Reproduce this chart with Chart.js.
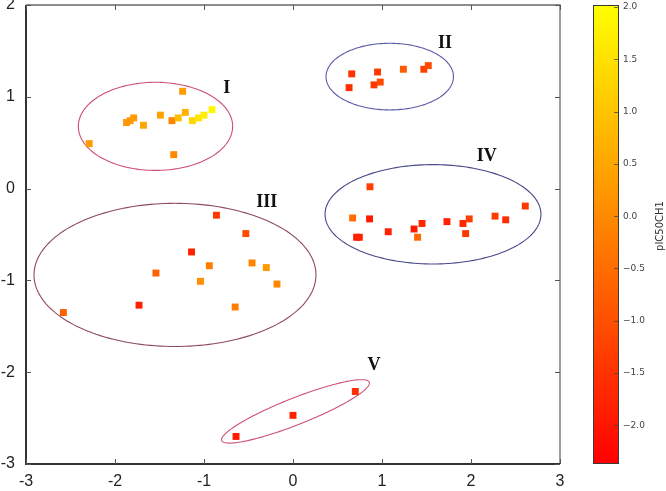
<!DOCTYPE html>
<html><head><meta charset="utf-8">
<script src="https://cdn.jsdelivr.net/npm/chart.js@4"></script>
<style>html,body{margin:0;padding:0;background:#fff}#wrap{width:666px;height:491px}</style>
</head><body><div id="wrap"><canvas id="c" width="666" height="491"></canvas></div>
<script>
// ---- data ----
const xValues = [
  -1.24,-1.49,-1.79,-1.83,-1.87,-1.68,-1.36,-1.29,-1.21,-1.13,-1.06,-1.00,-0.91,-2.29,-1.34,
  0.66,0.63,0.95,0.91,0.98,1.24,1.47,1.52,
  -0.86,-0.53,-1.14,-0.94,-0.46,-0.30,-1.54,-1.04,-0.18,-1.73,-0.65,-2.58,
  0.865,0.67,0.86,0.715,0.745,1.07,1.36,1.45,1.40,1.73,1.91,1.98,1.94,2.27,2.39,2.61,
  0.70,0.00,-0.64
];
const yValues = [
  1.06,0.80,0.77,0.74,0.72,0.69,0.74,0.77,0.83,0.74,0.77,0.80,0.86,0.49,0.37,
  1.25,1.10,1.27,1.13,1.16,1.30,1.30,1.34,
  -0.29,-0.49,-0.69,-0.84,-0.81,-0.86,-0.92,-1.01,-1.04,-1.27,-1.29,-1.35,
  0.02,-0.32,-0.33,-0.53,-0.53,-0.47,-0.44,-0.38,-0.53,-0.36,-0.38,-0.33,-0.49,-0.30,-0.34,-0.19,
  -2.21,-2.47,-2.70
];
const pIC50 = [
  0.3,0.4,0.3,0.3,0.2,0.5,-0.1,0.9,0.7,1.3,1.6,1.7,1.9,0.3,0.0,
  -1.5,-1.6,-1.4,-1.4,-1.1,-0.8,-1.3,-1.1,
  -1.4,-1.1,-1.8,-0.2,-0.1,0.3,-0.7,0.1,-0.1,-1.8,-0.2,-0.7,
  -1.3,-0.5,-1.9,-1.9,-1.8,-1.8,-1.9,-1.7,-0.6,-1.8,-1.7,-1.3,-1.4,-1.3,-1.6,-1.4,
  -1.6,-1.8,-1.9
];
const xTicks = [-3,-2,-1,0,1,2,3];
const yTicks = [-3,-2,-1,0,1,2];
const colorTicks = [-2.0,-1.5,-1.0,-0.5,0.0,0.5,1.0,1.5,2.0];
const colorMin = -2.37, colorMax = 2.02;
const colorTitle = 'pIC50CH1';

// cluster ellipses: centre and two semi-axis vectors (data units)
const clusterNames = ['I','II','III','IV','V'];
const ellipseCx = [-1.545, 1.087, -1.326, 1.573, 0.028];
const ellipseCy = [0.678, 1.22, -0.94, -0.28, -2.427];
const ellipseAx = [0.867, 0.716, 1.584, 1.213, 0.829];
const ellipseAy = [0, 0, 0, 0, 0.318];
const ellipseBx = [0, 0, 0, 0, 0.055];
const ellipseBy = [0.48, 0.363, 0.78, 0.541, -0.135];
const ellipseColors = ['#cc4f72','#5a5aa8','#8e4a5e','#47478a','#cc5276'];
const labelX = [-0.745, 1.708, -0.295, 2.176, 0.91];
const labelY = [1.09, 1.58, -0.15, 0.35, -1.92];

function autumn(v){
  let t = (v - colorMin) / (colorMax - colorMin);
  t = Math.max(0, Math.min(1, t));
  return 'rgb(255,' + Math.round(255 * t) + ',0)';
}
const pointColors = pIC50.map(autumn);
const points = xValues.map((x, i) => ({x: x, y: yValues[i]}));

const fmtMinus = v => { const s = (Math.abs(v) < 1e-9 ? 0 : v).toFixed(1); return s.replace('-', '\u2212'); };
const noPad = s => { s.paddingTop = 0; s.paddingBottom = 0; s.paddingLeft = 0; s.paddingRight = 0; };

const decor = {
  id: 'decor',
  beforeDatasetsDraw(chart) {
    const ctx = chart.ctx, a = chart.chartArea, xs = chart.scales.x, ys = chart.scales.y;
    ctx.save();
    ctx.beginPath(); ctx.rect(a.left, a.top, a.right - a.left, a.bottom - a.top); ctx.clip();
    for (let k = 0; k < clusterNames.length; k++) {
      ctx.beginPath();
      for (let s = 0; s <= 180; s++) {
        const t = s / 180 * Math.PI * 2;
        const dx = ellipseCx[k] + ellipseAx[k] * Math.cos(t) + ellipseBx[k] * Math.sin(t);
        const dy = ellipseCy[k] + ellipseAy[k] * Math.cos(t) + ellipseBy[k] * Math.sin(t);
        const px = xs.getPixelForValue(dx), py = ys.getPixelForValue(dy);
        if (s === 0) ctx.moveTo(px, py); else ctx.lineTo(px, py);
      }
      ctx.closePath();
      ctx.strokeStyle = ellipseColors[k]; ctx.lineWidth = 1.1; ctx.stroke();
    }
    ctx.restore();
    // frame
    ctx.save();
    ctx.strokeStyle = '#6a6a6a'; ctx.lineWidth = 1.3;
    ctx.beginPath();
    ctx.moveTo(a.left, a.top); ctx.lineTo(a.right, a.top); ctx.lineTo(a.right, a.bottom);
    ctx.stroke();
    ctx.strokeStyle = '#333'; ctx.lineWidth = 2;
    ctx.beginPath();
    ctx.moveTo(a.left, a.top); ctx.lineTo(a.left, a.bottom); ctx.lineTo(a.right, a.bottom);
    ctx.stroke();
    // inward ticks
    ctx.strokeStyle = '#555'; ctx.lineWidth = 1;
    ctx.beginPath();
    xTicks.forEach(v => {
      const px = Math.round(xs.getPixelForValue(v)) + 0.5;
      ctx.moveTo(px, a.bottom); ctx.lineTo(px, a.bottom - 5);
      ctx.moveTo(px, a.top); ctx.lineTo(px, a.top + 5);
    });
    yTicks.forEach(v => {
      const py = Math.round(ys.getPixelForValue(v)) + 0.5;
      ctx.moveTo(a.left, py); ctx.lineTo(a.left + 5, py);
      ctx.moveTo(a.right, py); ctx.lineTo(a.right - 5, py);
    });
    ctx.stroke();
    ctx.restore();
  },
  afterDraw(chart) {
    const ctx = chart.ctx, cs = chart.scales.c, xs = chart.scales.x, ys = chart.scales.y;
    const top = cs.getPixelForValue(colorMax), bot = cs.getPixelForValue(colorMin);
    const x0 = 593, x1 = 619;
    ctx.save();
    const g = ctx.createLinearGradient(0, top, 0, bot);
    g.addColorStop(0, autumn(colorMax));
    g.addColorStop(1, autumn(colorMin));
    ctx.fillStyle = g;
    ctx.fillRect(x0, top, x1 - x0, bot - top);
    ctx.strokeStyle = '#3a3a3a'; ctx.lineWidth = 1;
    ctx.strokeRect(x0 + 0.5, top + 0.5, x1 - x0 - 1, bot - top - 1);
    ctx.strokeStyle = 'rgba(60,60,60,0.7)';
    ctx.beginPath();
    colorTicks.forEach(v => {
      const py = Math.round(cs.getPixelForValue(v)) + 0.5;
      ctx.moveTo(x1 - 5, py); ctx.lineTo(x1, py);
    });
    ctx.stroke();
    // colour bar title
    ctx.translate(660, 226);
    ctx.rotate(-Math.PI / 2);
    ctx.fillStyle = '#333';
    ctx.font = '10px "DejaVu Sans"';
    ctx.textAlign = 'center'; ctx.textBaseline = 'middle';
    ctx.fillText(colorTitle, 0, 0);
    ctx.restore();
    // cluster names
    ctx.save();
    ctx.fillStyle = '#111';
    ctx.font = 'bold 18px "Liberation Serif"';
    ctx.textAlign = 'center'; ctx.textBaseline = 'middle';
    for (let k = 0; k < clusterNames.length; k++) {
      ctx.fillText(clusterNames[k], xs.getPixelForValue(labelX[k]), ys.getPixelForValue(labelY[k]));
    }
    ctx.restore();
  }
};

new Chart(document.getElementById('c'), {
  type: 'scatter',
  data: { datasets: [{
    data: points,
    pointStyle: 'rect',
    pointRadius: 4.9,
    pointHoverRadius: 4.9,
    pointBackgroundColor: pointColors,
    pointBorderWidth: 0,
    pointBorderColor: pointColors
  }]},
  options: {
    responsive: false,
    animation: false,
    devicePixelRatio: 1,
    layout: { padding: { top: 5, left: 0, right: 0, bottom: 0 } },
    plugins: { legend: { display: false }, tooltip: { enabled: false } },
    scales: {
      x: {
        type: 'linear', min: -3, max: 3,
        afterBuildTicks: s => { s.ticks = xTicks.map(v => ({value: v})); },
        afterFit: s => { s.height = 27; noPad(s); },
        grid: { display: false, drawTicks: false },
        border: { display: false },
        ticks: { padding: 8, color: '#222', font: { family: '"Liberation Sans"', size: 16 }, maxRotation: 0,
                  callback: v => String(v) }
      },
      y: {
        type: 'linear', min: -3, max: 2, position: 'left',
        afterBuildTicks: s => { s.ticks = yTicks.map(v => ({value: v})); },
        afterFit: s => { s.width = 26; noPad(s); },
        grid: { display: false, drawTicks: false },
        border: { display: false },
        ticks: { padding: 11, color: '#222', font: { family: '"Liberation Sans"', size: 16 },
                  callback: v => String(v) }
      },
      c: {
        type: 'linear', min: colorMin, max: colorMax, position: 'right',
        afterBuildTicks: s => { s.ticks = colorTicks.map(v => ({value: v})); },
        afterFit: s => { s.width = 106; noPad(s); },
        grid: { display: false, drawTicks: false, drawOnChartArea: false },
        border: { display: false },
        ticks: { padding: 63, color: '#444', font: { family: '"DejaVu Sans"', size: 9 },
                  callback: v => fmtMinus(v) }
      }
    }
  },
  plugins: [decor]
});
</script></body></html>
